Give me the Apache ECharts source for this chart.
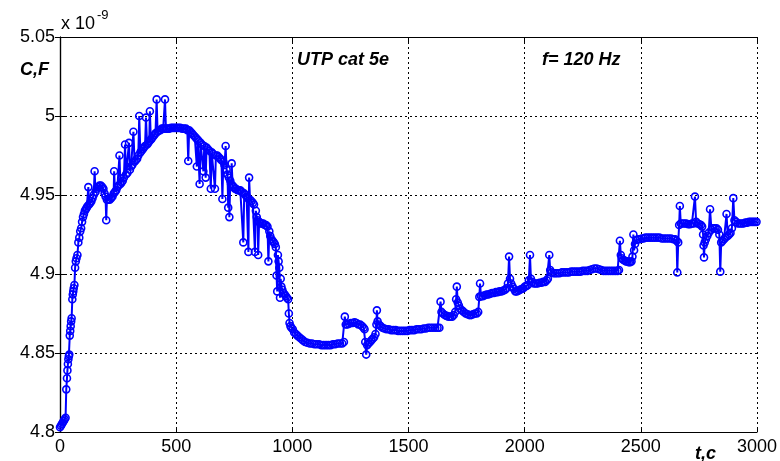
<!DOCTYPE html>
<html><head><meta charset="utf-8">
<script src="https://cdn.jsdelivr.net/npm/echarts/dist/echarts.min.js"></script>
<style>html,body{margin:0;padding:0;background:#fff}#c{width:780px;height:461px}</style>
</head><body><div id="c"></div>
<script>
// x axis: time t, c ; y axis: capacitance C, F (x 1e-9)
const xTicks = [0, 500, 1000, 1500, 2000, 2500, 3000];
const yTicks = [4.8, 4.85, 4.9, 4.95, 5, 5.05];

// [t, C(x1e-9)]
const rise = [[0,4.803],[4,4.804],[8,4.805],[12,4.806],[16,4.807],[20,4.808],[24,4.809],[27,4.827],[30,4.834],[32,4.839],[34,4.843],[36,4.846],[38,4.848],[40,4.849],[42,4.861],[44,4.864],[46,4.867],[48,4.870],[50,4.872],[53,4.884],[55,4.887],[57,4.889],[59,4.891],[62,4.893],[65,4.904],[68,4.908],[71,4.910],[75,4.912],[79,4.920],[83,4.923],[87,4.927],[91,4.929],[95,4.933],[99,4.936],[103,4.938],[107,4.940],[111,4.941],[115,4.942],[119,4.943],[122,4.955],[125,4.944],[130,4.945],[135,4.946],[140,4.948],[145,4.950],[149,4.965],[153,4.952],[158,4.954],[164,4.955],[170,4.956],[176,4.956],[182,4.955],[187,4.954],[192,4.951],[196,4.949],[199,4.934],[202,4.947],[208,4.947],[214,4.947],[220,4.948],[226,4.949],[231,4.951],[233,4.965],[237,4.952],[242,4.953],[247,4.955],[252,4.956],[256,4.975],[260,4.957],[265,4.958],[270,4.959],[275,4.961],[280,4.982],[284,4.963],[290,4.964],[297,4.983],[301,4.966],[306,4.968],[311,4.969],[316,4.990],[321,4.971],[326,4.972],[332,4.973],[337,4.975],[341,5.000],[346,4.977],[351,4.978],[356,4.979],[361,4.980],[366,4.981],[370,4.999],[375,4.982],[380,4.983],[384,4.984],[387,5.003],[391,4.985],[396,4.986],[401,4.987],[406,4.988],[411,4.989],[416,5.0105],[420,4.990],[426,4.991],[432,4.991],[438,4.992],[444,4.992],[448,4.992],[452,5.0105],[456,4.992]];

const descent = [[462,4.992],[470,4.992],[478,4.9925],[486,4.9925],[494,4.9925],[502,4.9925],[510,4.9925],[518,4.9925],[526,4.992],[534,4.992],[542,4.992],[548,4.991],[552,4.9715],[556,4.991],[562,4.990],[568,4.989],[574,4.988],[580,4.987],[586,4.986],[589,4.968],[593,4.985],[598,4.984],[601,4.957],[605,4.983],[611,4.982],[617,4.965],[621,4.981],[627,4.961],[631,4.980],[637,4.979],[643,4.978],[649,4.954],[653,4.977],[659,4.976],[667,4.954],[671,4.975],[677,4.975],[683,4.974],[689,4.973],[695,4.972],[699,4.9475],[703,4.971],[708,4.969],[713,4.981],[717,4.966],[721,4.963],[724,4.942],[727,4.961],[729,4.936],[733,4.959],[736,4.957],[739,4.970],[743,4.956],[748,4.955],[753,4.954],[758,4.954],[764,4.953],[770,4.953],[776,4.953],[782,4.952],[789,4.920],[793,4.951],[798,4.950],[803,4.949],[808,4.948],[811,4.914],[814,4.961],[818,4.947],[824,4.946],[830,4.945],[835,4.944],[839,4.914],[843,4.940],[847,4.936],[851,4.934],[853,4.912],[857,4.933],[863,4.932],[869,4.932],[875,4.932],[881,4.931],[887,4.931],[893,4.930],[897,4.908],[901,4.927],[905,4.924],[910,4.922],[915,4.921],[920,4.920],[925,4.919],[929,4.917],[932,4.899],[935,4.889],[938,4.912],[941,4.908],[944,4.904],[947,4.885],[950,4.897],[953,4.892],[957,4.890],[962,4.888],[967,4.887],[972,4.886],[977,4.885],[982,4.884],[985,4.875],[988,4.869],[992,4.867],[996,4.866]];

const trough = [[1002,4.865],[1008,4.863],[1015,4.862],[1022,4.861],[1030,4.860],[1038,4.859],[1046,4.858],[1055,4.857],[1065,4.8565],[1075,4.856],[1085,4.856],[1095,4.8555],[1105,4.8555],[1115,4.8555],[1125,4.855],[1135,4.855],[1145,4.855],[1155,4.855],[1165,4.855],[1175,4.8555],[1185,4.8555],[1195,4.856],[1205,4.856],[1215,4.856],[1222,4.857],[1226,4.873],[1230,4.868],[1237,4.868],[1244,4.8685],[1252,4.869],[1260,4.869],[1268,4.8695],[1276,4.869],[1284,4.868],[1292,4.868],[1300,4.867],[1307,4.866],[1311,4.865],[1314,4.857],[1318,4.849],[1322,4.855],[1328,4.856],[1334,4.857],[1340,4.858],[1346,4.859],[1352,4.860],[1358,4.862],[1362,4.868],[1364,4.877],[1367,4.870],[1373,4.868],[1380,4.867],[1388,4.866],[1396,4.8655],[1405,4.865],[1415,4.865],[1425,4.8645],[1435,4.8645],[1445,4.8645],[1455,4.864],[1465,4.864],[1475,4.864],[1485,4.864],[1495,4.864],[1505,4.8645],[1515,4.8645],[1525,4.8645],[1535,4.865],[1545,4.865],[1555,4.865],[1565,4.8655],[1575,4.8655],[1585,4.866],[1595,4.866],[1605,4.866],[1615,4.866],[1625,4.866],[1633,4.866]];

const climb = [[1638,4.8825],[1642,4.876],[1648,4.875],[1656,4.874],[1664,4.8735],[1672,4.873],[1680,4.873],[1688,4.873],[1695,4.874],[1701,4.876],[1705,4.884],[1708,4.892],[1712,4.882],[1717,4.880],[1722,4.878],[1730,4.877],[1738,4.876],[1746,4.875],[1754,4.8745],[1762,4.874],[1770,4.874],[1778,4.8745],[1786,4.875],[1794,4.875],[1800,4.876],[1805,4.8855],[1808,4.894],[1812,4.886],[1820,4.886],[1828,4.8865],[1836,4.887],[1844,4.887],[1852,4.8875],[1860,4.888],[1868,4.888],[1876,4.8885],[1884,4.8885],[1892,4.889],[1900,4.889],[1908,4.8895],[1916,4.890],[1922,4.891],[1928,4.894],[1933,4.911],[1937,4.897],[1942,4.894],[1948,4.892],[1954,4.8905],[1960,4.889],[1966,4.889],[1973,4.8895],[1980,4.890],[1987,4.8905],[1994,4.891],[2001,4.892],[2008,4.8925],[2014,4.893],[2018,4.896],[2023,4.912],[2027,4.897],[2032,4.895],[2040,4.894],[2048,4.894],[2056,4.894],[2064,4.8945],[2072,4.8945],[2080,4.895],[2088,4.895],[2095,4.896],[2100,4.897],[2106,4.912],[2110,4.9025],[2116,4.901],[2124,4.9005],[2132,4.9005],[2140,4.9005],[2150,4.9005],[2160,4.901],[2170,4.901],[2180,4.901],[2190,4.901],[2200,4.9015],[2210,4.9015],[2220,4.9015],[2230,4.9015],[2240,4.9015],[2250,4.902],[2260,4.902],[2270,4.902],[2280,4.9025],[2290,4.903],[2300,4.9035],[2310,4.9035],[2320,4.903],[2330,4.9025],[2340,4.902],[2350,4.902],[2360,4.902],[2370,4.902],[2380,4.902],[2390,4.902],[2400,4.902],[2406,4.9025],[2410,4.921],[2414,4.912],[2418,4.910],[2424,4.909],[2430,4.9085],[2436,4.908],[2442,4.908],[2448,4.9075],[2454,4.9075],[2460,4.908],[2464,4.911],[2468,4.925],[2471,4.915],[2475,4.919],[2480,4.9215],[2488,4.922],[2496,4.922],[2504,4.9225],[2512,4.9225],[2520,4.923],[2530,4.923],[2540,4.923],[2550,4.923],[2560,4.923],[2570,4.923],[2580,4.923],[2590,4.9225],[2600,4.9225],[2610,4.9225],[2620,4.9225],[2630,4.9225],[2640,4.922],[2648,4.922],[2654,4.921],[2657,4.901],[2661,4.920],[2665,4.931],[2668,4.943],[2672,4.932],[2680,4.932],[2688,4.932],[2696,4.932],[2704,4.9315],[2712,4.9315],[2720,4.932],[2728,4.932],[2733,4.949],[2738,4.933],[2745,4.932],[2752,4.9315],[2759,4.931],[2764,4.930],[2768,4.925],[2770,4.918],[2772,4.9105],[2775,4.920],[2780,4.922],[2786,4.924],[2792,4.926],[2798,4.941],[2804,4.928],[2810,4.929],[2818,4.929],[2826,4.929],[2832,4.928],[2838,4.925],[2842,4.9015],[2846,4.920],[2852,4.921],[2858,4.922],[2864,4.923],[2869,4.938],[2874,4.924],[2880,4.925],[2886,4.926],[2892,4.929],[2898,4.948],[2903,4.934],[2910,4.933],[2918,4.932],[2926,4.932],[2934,4.932],[2942,4.932],[2950,4.9325],[2958,4.9325],[2966,4.933],[2974,4.933],[2982,4.933],[2990,4.933],[2998,4.933]];

const allPoints = rise.concat(descent, trough, climb);

const FONT = '"Liberation Sans", Arial, sans-serif';
const chart = echarts.init(document.getElementById('c'), null, {renderer: 'canvas'});
const gridLine = {show: true, lineStyle: {color: '#000', width: 1, type: [2, 3]}};
const axisLine = {show: true, lineStyle: {color: '#000', width: 1.2}};
const label = {color: '#000', fontFamily: FONT, fontSize: 18};
chart.setOption({
  animation: false,
  backgroundColor: '#fff',
  grid: {left: 60, right: 23, top: 37, bottom: 29, containLabel: false},
  xAxis: [{
    type: 'value', min: xTicks[0], max: xTicks[xTicks.length - 1], interval: 500,
    axisLine: axisLine, axisTick: {show: true, inside: true, length: 5, lineStyle: {color: '#000'}},
    axisLabel: Object.assign({margin: 6, formatter: v => String(v)}, label), splitLine: gridLine
  }, {
    type: 'value', position: 'top', min: xTicks[0], max: xTicks[xTicks.length - 1], interval: 500,
    axisLine: axisLine, axisTick: {show: true, inside: true, length: 5, lineStyle: {color: '#000'}},
    axisLabel: {show: false}, splitLine: {show: false}
  }],
  yAxis: [{
    type: 'value', min: yTicks[0], max: yTicks[yTicks.length - 1], interval: 0.05,
    axisLine: axisLine, axisTick: {show: true, inside: true, length: 5, lineStyle: {color: '#000'}},
    axisLabel: Object.assign({margin: 5, formatter: v => String(+v.toFixed(2))}, label), splitLine: gridLine
  }, {
    type: 'value', position: 'right', min: yTicks[0], max: yTicks[yTicks.length - 1], interval: 0.05,
    axisLine: axisLine, axisTick: {show: true, inside: true, length: 5, lineStyle: {color: '#000'}},
    axisLabel: {show: false}, splitLine: {show: false}
  }],
  series: [{
    type: 'line', xAxisIndex: 0, yAxisIndex: 0,
    data: allPoints,
    symbol: 'circle', symbolSize: 7, showSymbol: true, showAllSymbol: true,
    lineStyle: {color: '#0000ff', width: 2},
    itemStyle: {color: 'rgba(0,0,0,0)', borderColor: '#0000ff', borderWidth: 1.6},
    emphasis: {disabled: true},
    clip: true
  }],
  graphic: [
    {type: 'text', left: 61, top: 15, style: {text: 'x 10', font: '18px ' + FONT, fill: '#000'}},
    {type: 'text', left: 97, top: 9, style: {text: '-9', font: '13px ' + FONT, fill: '#000'}},
    {type: 'text', left: 20, top: 61, style: {text: 'C,F', font: 'italic bold 18px ' + FONT, fill: '#000'}},
    {type: 'text', left: 297, top: 51, style: {text: 'UTP cat 5e', font: 'italic bold 18px ' + FONT, fill: '#000'}},
    {type: 'text', left: 542, top: 51, style: {text: 'f= 120 Hz', font: 'italic bold 18px ' + FONT, fill: '#000'}},
    {type: 'text', left: 695, top: 445, style: {text: 't,c', font: 'italic bold 18px ' + FONT, fill: '#000'}}
  ]
});
</script>
</body></html>
